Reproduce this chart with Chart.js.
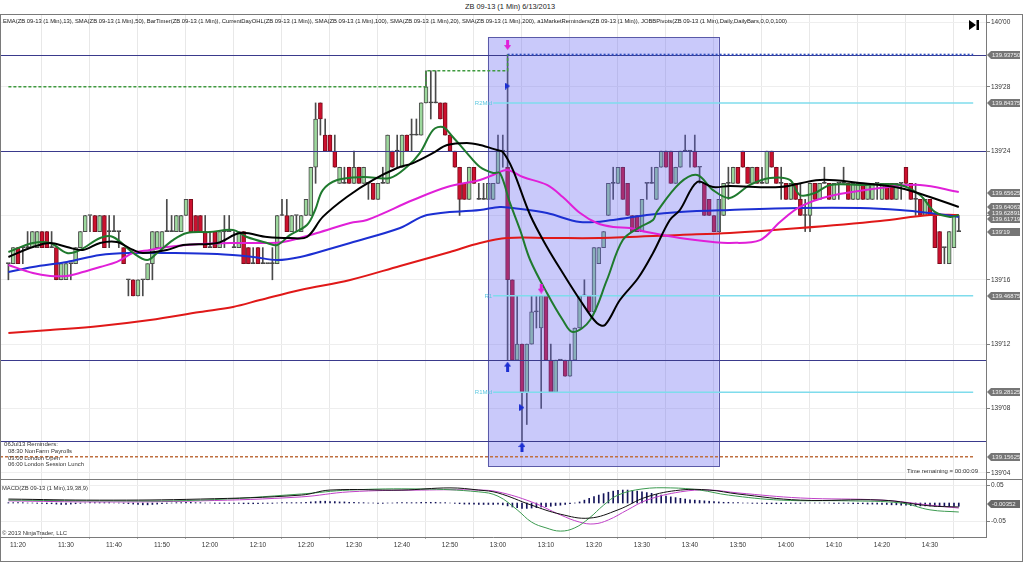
<!DOCTYPE html>
<html><head><meta charset="utf-8">
<script src="https://cdn.jsdelivr.net/npm/chart.js@4.4.0/dist/chart.umd.min.js"></script>
<style>
body{margin:0;width:1024px;height:562px;overflow:hidden;background:#fff;font-family:Arial,"Liberation Sans",sans-serif;position:relative;}
#mainWrap{position:absolute;left:0;top:14px;width:1024px;height:465px;}
#macdWrap{position:absolute;left:0;top:479px;width:1024px;height:83px;}
.txt{position:absolute;white-space:nowrap;color:#333;line-height:1;font-family:Arial,"Liberation Sans",sans-serif;}
#frame{position:absolute;left:0;top:14px;width:1023px;height:548px;box-sizing:border-box;border:1px solid #7a7a7a;pointer-events:none;}
#sep{position:absolute;left:0;top:479px;width:1023px;height:1px;background:#7a7a7a;}
</style></head>
<body>
<div id="mainWrap"><canvas id="main" width="1024" height="465"></canvas></div>
<div id="macdWrap"><canvas id="macd" width="1024" height="83"></canvas></div>
<div id="frame"></div><div id="sep"></div>
<script>
// ---------- DATA ----------
// price values are in 32nds above 139'00 ; time in minutes after 11:20
const firstBarMinute = -2;
const opens = [
17,17,18,18,18,18,18,19,19,18, 18,16,16,17,17,18,19,20,20,19, 20,19,19,19,18,16,16,15,16,16,
17,18,18,19,19,19,19,20,21,20, 20,19,18,19,18,19,19,18,18,19, 18,17,18,17,17,17,17,20,20,19,
20,19,20,20,23,27,25,25,24,22, 22,23,22,23,22,22,22,21,22,22, 24,24,23,25,25,25,25,27,27,27,
27,27,25,24,23,22,21,23,21,21, 21,21,22,24,23,16,11,12,9,12, 14,13,15,11,9,11,11,10,11,13,
15,15,14,17,18,20,22,22,23,22, 20,20,19,22,22,21,23,24,24,22, 23,24,24,24,23,22,21,20,19,20,
22,22,23,24,23,22,23,22,22,24, 23,22,22,21,22,21,20,20,22,21, 22,22,21,22,22,22,21,21,22,21,
21,22,21,22,22,21,22,23,22,21, 21,20,21,20,19,18,17,18,19];
const highs = [
17,18,18,18,19,19,19,19,19,19, 18,17,17,17,18,19,20,20,20,20, 20,20,20,19,18,16,16,16,16,17,
19,19,19,21,20,20,20,21,21,20, 20,20,19,19,19,20,20,19,19,19, 18,18,18,18,17,18,20,21,21,20,
20,20,21,23,27,27,26,25,25,23, 23,23,24,23,23,22,22,22,23,25, 24,25,25,25,26,26,27,29,29,29,
27,27,25,24,23,22,23,23,22,22, 22,22,25,25,30,16,15,12,12,15, 15,15,15,12,11,11,11,12,13,15,
16,15,18,18,19,22,23,23,23,22, 20,20,21,22,23,23,24,24,24,23, 24,25,24,25,23,22,21,20,21,22,
23,23,23,24,23,23,23,23,24,24, 23,23,22,22,22,22,21,22,22,22, 23,22,22,22,23,22,22,22,22,22,
22,22,22,22,22,22,22,23,22,22, 21,21,21,20,19,18,19,20,20];
const lows = [
16,17,17,17,18,18,18,18,18,18, 16,16,16,16,17,18,19,19,19,19, 18,18,19,18,17,15,15,15,15,16,
16,18,18,19,19,19,19,20,19,19, 19,18,18,18,18,18,19,18,18,17, 17,17,17,17,17,16,17,20,19,19,
19,19,20,20,22,25,24,24,23,22, 22,22,22,22,22,21,21,21,22,22, 23,23,23,24,24,25,25,27,26,27,
26,25,24,23,20,21,21,22,21,21, 21,21,22,23,11,11,11,6,7,12, 13,8,11,9,9,11,10,10,11,13,
15,14,14,17,18,20,21,22,21,20, 19,19,19,21,22,21,23,23,22,22, 23,24,23,23,22,20,20,19,19,20,
21,22,22,23,22,22,22,22,22,23, 22,21,21,21,21,20,19,19,21,21, 22,21,21,21,22,21,21,21,21,21,
21,21,21,21,21,21,21,22,21,20, 20,20,20,18,17,17,17,18,19];
const closes = [
17,18,17,18,18,19,19,18,18,18, 16,17,17,17,18,19,20,20,19,20, 18,19,19,19,17,16,15,16,16,17,
19,19,19,19,19,20,20,21,19,19, 19,18,18,18,19,19,19,18,19,17, 17,17,17,17,17,17,20,20,19,20,
20,20,21,23,26,26,24,24,23,23, 22,22,23,22,23,22,21,22,22,25, 23,24,25,24,25,25,27,28,27,27,
26,25,24,23,21,21,23,22,21,21, 22,22,24,24,16,11,12,9,12,14, 14,15,11,9,11,11,10,11,13,15,
15,14,18,18,19,22,22,23,21,20, 19,19,21,22,22,23,24,23,22,23, 24,24,24,23,23,20,20,19,21,22,
22,23,22,23,22,23,22,22,24,23, 22,22,21,22,21,20,20,22,21,22, 22,21,22,22,22,21,22,22,21,22,
22,22,22,21,21,22,22,22,21,21, 20,21,20,18,17,18,19,20,19];

// moving averages: time (min after 11:20) / value (32nds above 139)
const sma200T = [-2,6.7,17.1,27.5,37.9,44.8,50.4,58.8,69.2,79.6,90,96.25,101.9,110.8,121.25,137.9,148.3,162.9,179.6,190,196];
const sma200V = [12.69,12.88,13.13,13.5,14.0,14.31,14.74,15.37,15.99,16.86,17.73,18.29,18.6,18.6,18.6,18.79,18.91,19.22,19.66,20.03,20.03];
const sma100T = [-2,3.1,10.2,17.1,24,31,41.5,49,54,58.8,65.6,69.2,79.6,85.2,96.25,100.4,103.1,110.2,117.1,124,131,137.9,148.3,162.9,175.4,183.75,190,196];
const sma100V = [16.48,16.8,17.11,17.54,17.67,17.67,17.6,17.42,17.23,17.42,17.98,18.29,19.22,20.03,20.34,20.53,20.46,20.15,19.59,19.72,20.03,20.22,20.34,20.46,20.46,20.34,20.15,19.91];
const sma50T = [-2,3.1,6.7,10.2,13.5,17.1,20.6,24,27.5,31,37.9,44.8,51.9,55.2,62.3,69.2,72.7,82.3,89.4,96.25,99,101.9,105.2,110.2,113.5,117.1,120.6,124,127.5,131,137.9,144.8,148.3,154.6,158.75,162.9,169.2,179.6,187.9,196];
const sma50V = [16.92,16.42,16.24,16.24,16.48,16.8,17.11,17.67,17.85,18.04,18.23,18.29,18.29,18.35,18.91,19.53,19.72,20.96,21.77,22.21,22.52,22.83,22.39,21.9,21.15,20.15,19.53,19.28,19.22,18.97,18.6,18.35,18.29,18.47,19.59,20.53,21.21,21.71,21.9,21.46];
const sma20T = [-2,3.1,6.7,10.2,13.5,17.1,20.6,24,26,31,34.4,41.5,46.3,51.9,56.7,60.2,63.5,68.5,74,79,82.3,86.5,89.4,93.5,96.25,99.8,101,103.1,106.7,110.2,113.5,117.1,120.6,122.3,125.4,129.2,132.3,135.8,137.9,141.5,144.8,148.3,158.75,167.1,175.4,183.75,190,196];
const sma20V = [17.42,18.04,18.29,18.04,17.85,18.29,18.35,17.85,17.67,17.85,18.16,18.29,18.91,18.66,18.6,18.66,19.91,21.15,22.21,22.95,23.26,23.89,24.38,24.51,24.38,24.07,23.95,22.83,20.03,18.04,16.42,14.74,13.31,13.19,14.74,16.11,17.67,19.72,20.34,22.08,21.77,21.83,21.77,22.21,22.02,21.71,21.15,20.53];
const ema13T = [-2,3.1,6.7,10.2,12.9,17.1,19.8,24,26.9,29,32.3,35.2,40,44.8,47.7,51.9,54,56.7,60.2,61.9,63.5,66.5,71.9,77.5,81,83.75,86.5,88.5,90.6,93.5,96.25,99,100.4,102.5,104.6,106.7,110.2,113.5,115.6,119.2,122.7,126,129.6,132.3,133.1,137.9,141.5,144.8,148.3,152.5,156.7,160.8,162.9,166,169.2,175.4,183.75,187.9,191,194.2,196];
const ema13V = [17.73,18.29,18.29,17.67,17.85,18.6,18.66,17.67,17.23,17.67,18.47,18.91,18.97,19.1,18.66,18.29,18.16,18.79,19.41,20.34,21.58,22.21,22.39,22.33,23.01,23.89,25.32,25.5,24.88,23.89,23.01,22.64,22.64,20.78,19.1,17.23,15.18,13.5,12.75,13.5,15.99,18.47,19.28,19.72,20.22,22.02,22.52,21.58,21.09,21.9,22.33,22.21,21.27,21.4,21.9,21.9,21.9,21.27,20.22,19.91,20.03];

// current-day high steps
const dayHighT = [-2, 85, 102];
const dayHighV = [28, 29, 30];
const dayHighEnd = 199;
// drawn levels
const navyLevels = [30, 24, 11, 6];
const pivotLevels = [27, 15, 9];
const pivotNames = ['R2Mid', 'R1', 'R1Mid'];
const dayLow = 5;
const boxRange = {t0: 97.9, t1: 146.0, v0: 4.42, v1: 31.1};
// signal arrows
const downArrows = [{x:102, y:30.6}, {x:109, y:15.45}];
const upArrows = [{x:102, y:10.6}, {x:105, y:5.6}];
const sideMarks = [{x:102, y:28.05}, {x:105, y:8.05}];
// right-axis price tags
const tagValues = [30, 27, 21.4, 20.55, 20.15, 19.8, 19, 15, 9, 5];
const tagTexts = ['139.93750','139.84375','139.65625','139.64063','139.62891','139.61719',"139'19",'139.46875','139.28125','139.15625'];

// time axis
const timeTicks = [0,10,20,30,40,50,60,70,80,90,100,110,120,130,140,150,160,170,180,190];
const timeLabels = ['11:20','11:30','11:40','11:50','12:00','12:10','12:20','12:30','12:40','12:50','13:00','13:10','13:20','13:30','13:40','13:50','14:00','14:10','14:20','14:30'];
const priceTicks = [4,8,12,16,20,24,28,32];

// MACD (19,38,9)
const macdT = [-2,17,38,59,65,80,90,96,100,107,113,119,125,131,138,144,150,163,180,190,196];
const macdV = [0.011,0.008,0.011,0.022,0.036,0.036,0.042,0.036,0.028,-0.006,-0.031,-0.042,-0.019,0.017,0.036,0.036,0.025,0.008,0.008,-0.008,-0.011];
const macdGreenT = [-2,17,38,59,69,84,96,100,104,107,110,113,116,119,122,125,130,136,142,148,159,173,184,190,196];
const macdGreenV = [0.008,0.006,0.008,0.025,0.036,0.039,0.031,0.019,-0.019,-0.053,-0.069,-0.078,-0.069,-0.042,-0.006,0.022,0.039,0.042,0.036,0.022,0.008,0.006,0,-0.019,-0.025];
const macdAvgT = [-2,17,38,59,69,84,96,100,107,113,117,120,123,127,131,138,144,150,163,180,190,196];
const macdAvgV = [0.006,0.003,0.006,0.017,0.031,0.036,0.036,0.031,0.003,-0.033,-0.053,-0.058,-0.047,-0.019,0.008,0.031,0.036,0.028,0.014,0.008,-0.006,-0.014];
const macdHist = [ // thousandths, one per bar
1,1,1,1,0,0,-1,-1,-2,-2, -3,-4,-4,-3,-2,-1,0,1,1,1, 1,1,0,0,-1,-2,-3,-4,-5,-5,
-4,-3,-2,-1,0,1,1,2,2,1, 1,0,0,-1,-1,-1,-1,-1,-1,-2, -2,-2,-2,-1,-1,-1,0,1,1,1,
1,1,2,3,4,5,5,4,4,3, 3,2,2,1,1,0,0,-1,-1,0, 0,1,1,1,1,1,2,2,2,2,
1,1,0,-1,-2,-3,-3,-3,-4,-4, -4,-4,-3,-5,-8,-11,-13,-15,-15,-14, -13,-11,-10,-9,-7,-6,-4,-2,0,3,
8,13,18,22,26,30,33,35,36,36, 35,33,31,29,27,24,22,19,17,15, 13,11,9,8,7,6,5,4,3,2,
2,1,1,0,0,-1,-1,-1,-2,-2, -2,-2,-1,-1,-1,-1,0,0,0,0, 0,0,-1,-1,-1,-1,-2,-2,-2,-3,
-3,-3,-4,-4,-5,-5,-6,-6,-7,-7, -8,-8,-8,-9,-9,-9,-9,-9,-9];
const macdTagValue = -0.00352;

// ---------- HELPERS ----------
const xMin = -3.75, xMax = 201.67;
function fmtPrice(v){ const w = 139 + Math.floor(v/32); const f = Math.round(v - Math.floor(v/32)*32); return w + "'" + String(f).padStart(2,'0'); }
function pts(T, V){ return T.map((t,i)=>({x:t, y:V[i]})); }
const UP_FILL='#9dd89d', DN_FILL='#cc102e';
const barX = opens.map((_,i)=>firstBarMinute+i);
function arrowCanvas(color, dir){
  const c=document.createElement('canvas'); c.width=7; c.height=10; const g=c.getContext('2d'); g.fillStyle=color;
  g.beginPath();
  if(dir==='down'){ g.rect(2,0,3,5); g.moveTo(0,5); g.lineTo(7,5); g.lineTo(3.5,10); }
  else { g.rect(2,5,3,5); g.moveTo(0,5); g.lineTo(7,5); g.lineTo(3.5,0); }
  g.fill(); return c;
}
function triCanvas(color){
  const c=document.createElement('canvas'); c.width=5; c.height=7; const g=c.getContext('2d'); g.fillStyle=color;
  g.beginPath(); g.moveTo(0,0); g.lineTo(5,3.5); g.lineTo(0,7); g.fill(); return c;
}
const fontTick = {family:'Arial', size:6.5};
function noPad(s){ s.paddingTop=0; s.paddingBottom=0; s.paddingLeft=0; s.paddingRight=0; }

// ---------- MAIN PLUGIN ----------
const mainDecor = {
  id:'mainDecor',
  afterDatasetDraw(chart, args){
    if(chart.data.datasets[args.index].role !== 'bodies') return;
    const {ctx, chartArea:a, scales:{x,y}} = chart;
    ctx.save();
    ctx.beginPath(); ctx.rect(a.left, a.top, a.right-a.left, a.bottom-a.top); ctx.clip();
    // shaded time box
    const bx0=x.getPixelForValue(boxRange.t0), bx1=x.getPixelForValue(boxRange.t1);
    const by0=y.getPixelForValue(boxRange.v1), by1=y.getPixelForValue(boxRange.v0);
    ctx.fillStyle='rgba(100,100,240,0.35)'; ctx.fillRect(bx0,by0,bx1-bx0,by1-by0);
    ctx.strokeStyle='#5a5aa8'; ctx.lineWidth=1; ctx.strokeRect(Math.round(bx0)+0.5,Math.round(by0)+0.5,Math.round(bx1-bx0),Math.round(by1-by0));
    // navy levels
    ctx.strokeStyle='#3a3a8c'; ctx.lineWidth=1;
    navyLevels.forEach(v=>{ const py=Math.round(y.getPixelForValue(v))+0.5; ctx.beginPath(); ctx.moveTo(a.left,py); ctx.lineTo(a.right,py); ctx.stroke(); });
    // pivot lines
    const px0 = x.getPixelForValue(99), px1 = x.getPixelForValue(199);
    ctx.strokeStyle='#7fdcec'; ctx.lineWidth=1.5;
    ctx.font='6px Arial'; ctx.textAlign='right'; ctx.textBaseline='middle';
    pivotLevels.forEach((v,i)=>{ const py=y.getPixelForValue(v); ctx.beginPath(); ctx.moveTo(px0,py); ctx.lineTo(px1,py); ctx.stroke(); ctx.fillStyle='#5cc8e0'; ctx.fillText(pivotNames[i], px0-1, py); });
    // day low dashed
    const ly=y.getPixelForValue(dayLow);
    ctx.strokeStyle='#c07040'; ctx.setLineDash([3,2]); ctx.lineWidth=1.5;
    ctx.beginPath(); ctx.moveTo(a.left,ly); ctx.lineTo(px1,ly); ctx.stroke();
    // current high (dotted blue) after new high
    const hy=y.getPixelForValue(dayHighV[dayHighV.length-1]);
    ctx.strokeStyle='#2f4fc0'; ctx.setLineDash([2,2]); ctx.lineWidth=2;
    ctx.beginPath(); ctx.moveTo(x.getPixelForValue(dayHighT[dayHighT.length-1]),hy); ctx.lineTo(x.getPixelForValue(dayHighEnd),hy); ctx.stroke();
    ctx.restore();
  },
  afterDraw(chart){
    const {ctx, chartArea:a, scales:{y}} = chart;
    ctx.save();
    ctx.font='6px Arial'; ctx.textBaseline='middle'; ctx.textAlign='left';
    tagValues.forEach((v,i)=>{
      const py=Math.round(y.getPixelForValue(v));
      const x0=a.right+1, w=33, h=8;
      ctx.fillStyle='#767676';
      ctx.beginPath(); ctx.moveTo(x0,py); ctx.lineTo(x0+4,py-h/2); ctx.lineTo(x0+w,py-h/2); ctx.lineTo(x0+w,py+h/2); ctx.lineTo(x0+4,py+h/2); ctx.closePath(); ctx.fill();
      ctx.fillStyle='#f2f2f2'; ctx.fillText(tagTexts[i], x0+5, py+0.5);
    });
    // go-to-end icon
    ctx.fillStyle='#000';
    ctx.beginPath(); ctx.moveTo(969,6); ctx.lineTo(976,11); ctx.lineTo(969,16); ctx.closePath(); ctx.fill();
    ctx.fillRect(976.5,6,2.5,10);
    ctx.restore();
  }
};

const candleBorder = (c)=> c.raw.y[1]>c.raw.y[0] ? '#4a4a4a' : (c.raw.y[1]<c.raw.y[0] ? '#7a0c1c' : '#444');
new Chart(document.getElementById('main'), {
  type:'bar',
  data:{ datasets:[
    {role:'wicks', data: barX.map((t,i)=>({x:t, y:[lows[i], highs[i]]})), backgroundColor:'#4a4a4a', barThickness:1, grouped:false, order:20},
    {role:'bodies', data: barX.map((t,i)=>({x:t, y:[opens[i], closes[i]]})),
      backgroundColor: c=> c.raw.y[1]>c.raw.y[0]?UP_FILL:(c.raw.y[1]<c.raw.y[0]?DN_FILL:'#444'),
      borderColor: candleBorder, borderWidth:1, borderSkipped:false, barThickness:4, minBarLength:1, grouped:false, order:19},
    {type:'line', label:'DayHigh', data: pts(dayHighT, dayHighV), stepped:'before', borderColor:'#3f9a3f', borderDash:[3,2], borderWidth:1.5, pointRadius:0, order:8},
    {type:'line', label:'SMA200', data: pts(sma200T, sma200V), borderColor:'#e01818', borderWidth:2, pointRadius:0, tension:0.35, order:7},
    {type:'line', label:'SMA100', data: pts(sma100T, sma100V), borderColor:'#1c2fd2', borderWidth:2, pointRadius:0, tension:0.35, order:6},
    {type:'line', label:'SMA50', data: pts(sma50T, sma50V), borderColor:'#e020d8', borderWidth:2, pointRadius:0, tension:0.35, order:5},
    {type:'line', label:'EMA13', data: pts(ema13T, ema13V), borderColor:'#1f7a2e', borderWidth:2, pointRadius:0, tension:0.35, order:4},
    {type:'line', label:'SMA20', data: pts(sma20T, sma20V), borderColor:'#000000', borderWidth:2, pointRadius:0, tension:0.35, order:3},
    {type:'line', label:'down', data: downArrows, showLine:false, pointStyle: arrowCanvas('#e020d8','down'), pointRadius:5, order:1},
    {type:'line', label:'up', data: upArrows, showLine:false, pointStyle: arrowCanvas('#1c2fd2','up'), pointRadius:5, order:1},
    {type:'line', label:'side', data: sideMarks, showLine:false, pointStyle: triCanvas('#1c2fd2'), pointRadius:4, order:1}
  ]},
  options:{
    responsive:false, animation:false, maintainAspectRatio:false,
    layout:{padding:0, autoPadding:false},
    plugins:{legend:{display:false}, tooltip:{enabled:false}},
    scales:{
      x:{type:'linear', min:xMin, max:xMax, offset:false,
         grid:{color:'#e8e8e8', drawTicks:false}, border:{display:false}, ticks:{display:false},
         afterBuildTicks: s=>{ s.ticks = timeTicks.map(v=>({value:v})); }, afterFit: s=>{ s.height = 0; noPad(s); }},
      y:{type:'linear', position:'right', min:3.61, max:32.53,
         grid:{color:'#eeeeee', tickColor:'#808080', tickLength:4}, border:{color:'#7a7a7a'},
         ticks:{font:fontTick, color:'#333', padding:1, callback:v=>fmtPrice(v)},
         afterBuildTicks: s=>{ s.ticks = priceTicks.map(v=>({value:v})); }, afterFit: s=>{ s.width = 38; noPad(s); }}
    }
  },
  plugins:[mainDecor]
});

// ---------- MACD ----------
const macdDecor = {
  id:'macdDecor',
  afterDraw(chart){
    const {ctx, chartArea:a, scales:{y}} = chart;
    const py=Math.round(y.getPixelForValue(macdTagValue));
    ctx.save(); ctx.font='6px Arial'; ctx.textBaseline='middle';
    const x0=a.right+1, w=33, h=8;
    ctx.fillStyle='#6a6a6a';
    ctx.beginPath(); ctx.moveTo(x0,py); ctx.lineTo(x0+4,py-h/2); ctx.lineTo(x0+w,py-h/2); ctx.lineTo(x0+w,py+h/2); ctx.lineTo(x0+4,py+h/2); ctx.closePath(); ctx.fill();
    ctx.fillStyle='#f2f2f2'; ctx.fillText(macdTagValue.toFixed(5), x0+5, py+0.5);
    ctx.restore();
  }
};
new Chart(document.getElementById('macd'), {
  type:'bar',
  data:{ datasets:[
    {data: barX.map((t,i)=>({x:t, y:[0, macdHist[i]/1000]})), backgroundColor:'#14145a', barThickness:1, grouped:false, order:10},
    {type:'line', data: pts(macdAvgT, macdAvgV), borderColor:'#c040c8', borderWidth:1, pointRadius:0, tension:0.4, order:3},
    {type:'line', data: pts(macdGreenT, macdGreenV), borderColor:'#3c9a50', borderWidth:1, pointRadius:0, tension:0.4, order:2},
    {type:'line', data: pts(macdT, macdV), borderColor:'#111', borderWidth:1, pointRadius:0, tension:0.4, order:1}
  ]},
  options:{
    responsive:false, animation:false, maintainAspectRatio:false,
    layout:{padding:0, autoPadding:false},
    plugins:{legend:{display:false}, tooltip:{enabled:false}},
    scales:{
      x:{type:'linear', min:xMin, max:xMax, offset:false,
         grid:{color:'#e8e8e8', tickColor:'#aaa', tickLength:2}, border:{color:'#7a7a7a'},
         ticks:{font:fontTick, color:'#333', padding:2, maxRotation:0, autoSkip:false, callback:(v)=>{ const k=timeTicks.indexOf(v); return k>=0?timeLabels[k]:''; }},
         afterBuildTicks: s=>{ s.ticks = timeTicks.map(v=>({value:v})); }, afterFit: s=>{ s.height = 25; noPad(s); }},
      y:{type:'linear', position:'right', min:-0.0944, max:0.0667,
         grid:{color:'#eeeeee', tickColor:'#808080', tickLength:4}, border:{color:'#7a7a7a'},
         ticks:{font:fontTick, color:'#333', padding:1, callback:v=>v.toFixed(2)},
         afterBuildTicks: s=>{ s.ticks = [-0.05,0.05].map(v=>({value:v})); }, afterFit: s=>{ s.width = 38; noPad(s); }}
    }
  },
  plugins:[macdDecor]
});

// ---------- TEXT ----------
const texts = [
  {t:'ZB 09-13 (1 Min)  6/13/2013', x:465, y:7, w:90, s:8, c:'#222'},
  {t:'EMA(ZB 09-13 (1 Min),13), SMA(ZB 09-13 (1 Min),50), BarTimer(ZB 09-13 (1 Min)), CurrentDayOHL(ZB 09-13 (1 Min)), SMA(ZB 09-13 (1 Min),100), SMA(ZB 09-13 (1 Min),20), SMA(ZB 09-13 (1 Min),200), a1MarketReminders(ZB 09-13 (1 Min)), JOBBPivots(ZB 09-13 (1 Min),Daily,DailyBars,0,0,0,100)', x:3, y:21, w:784, s:6, c:'#222'},
  {t:'06Jul13 Reminders:', x:4, y:444, w:54, s:6, c:'#333'},
  {t:'08:30 NonFarm Payrolls', x:8, y:451, w:64, s:6, c:'#333'},
  {t:'03:00 London Open', x:8, y:457.5, w:52, s:6, c:'#333'},
  {t:'06:00 London Session Lunch', x:8, y:464, w:76, s:6, c:'#333'},
  {t:'Time remaining = 00:00:09', x:907, y:471, w:71, s:6, c:'#333'},
  {t:'MACD(ZB 09-13 (1 Min),19,38,9)', x:2, y:488, w:86, s:6, c:'#333'},
  {t:'\u00a9 2013 NinjaTrader, LLC', x:2, y:533, w:65, s:6, c:'#333'}
];
texts.forEach(o=>{
  const d=document.createElement('div'); d.className='txt'; d.textContent=o.t;
  d.style.fontSize=o.s+'px'; d.style.color=o.c; d.style.left=o.x+'px'; d.style.top=(o.y-o.s/2)+'px';
  document.body.appendChild(d);
  const w=d.getBoundingClientRect().width;
  d.style.transformOrigin='0 50%'; d.style.transform='scaleX('+(o.w/w)+')';
});
</script>
</body></html>
